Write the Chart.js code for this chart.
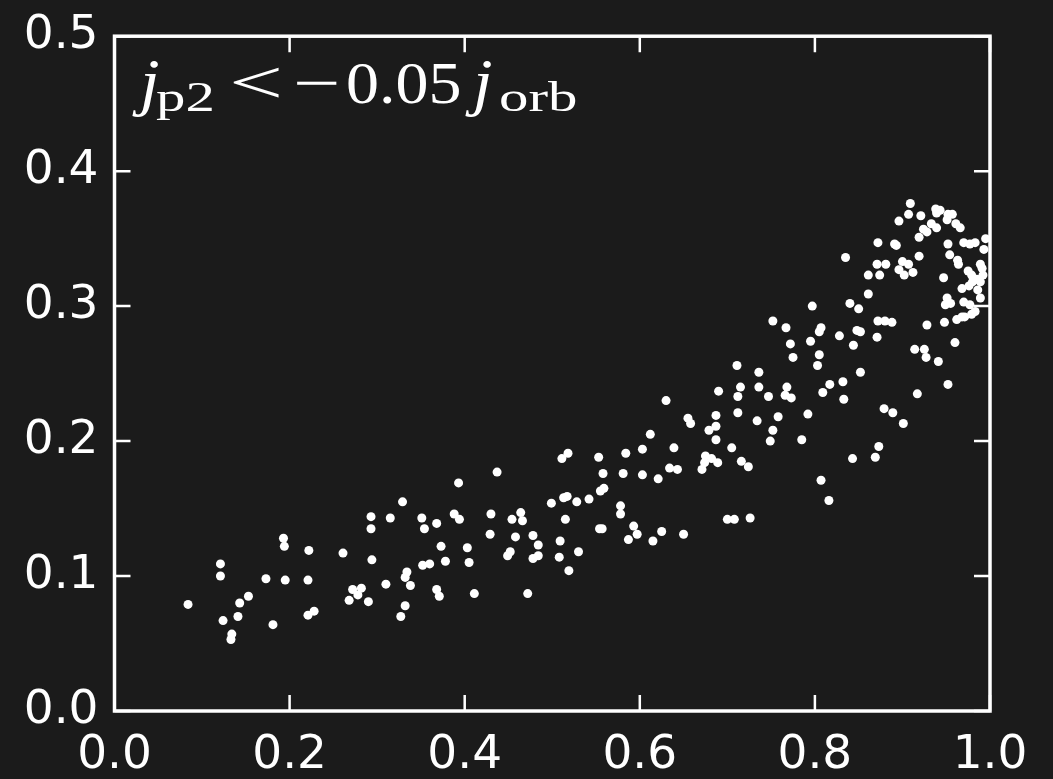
<!DOCTYPE html>
<html>
<head>
<meta charset="utf-8">
<script src="https://cdn.jsdelivr.net/npm/chart.js@4.4.0/dist/chart.umd.min.js"></script>
<style>
    html, body { margin: 0; padding: 0; background: #1b1b1b; }
    #wrap { width: 1053px; height: 779px; }
</style>
</head>
<body>
<div id="wrap"><canvas id="chart" width="1053" height="779"></canvas></div>
<script>
// values
const ratioX = [
    0.084, 0.121, 0.121, 0.153, 0.143, 0.124, 0.141, 0.134, 0.133, 0.173, 0.195, 0.181, 0.193, 0.194, 0.222, 0.221,
    0.221, 0.228, 0.261, 0.518, 0.511, 0.437, 0.393, 0.329, 0.293, 0.293, 0.315, 0.351, 0.354, 0.368, 0.388, 0.394,
    0.430, 0.429, 0.454, 0.464, 0.466, 0.458, 0.478, 0.484, 0.452, 0.449, 0.478, 0.484, 0.499, 0.513, 0.517, 0.528,
    0.515, 0.509, 0.508, 0.519, 0.530, 0.294, 0.373, 0.403, 0.378, 0.405, 0.352, 0.360, 0.334, 0.332, 0.338, 0.310,
    0.272, 0.282, 0.278, 0.268, 0.290, 0.368, 0.371, 0.411, 0.472, 0.332, 0.327,
    0.690, 0.715, 0.712, 0.736, 0.747, 0.768, 0.766, 0.773, 0.630, 0.655, 0.658, 0.687, 0.687, 0.679, 0.712, 0.734,
    0.758, 0.752, 0.749, 0.687, 0.705, 0.612, 0.639, 0.603, 0.584, 0.553, 0.675, 0.682, 0.689, 0.674, 0.671, 0.716,
    0.724, 0.634, 0.643, 0.558, 0.581, 0.603, 0.621, 0.559, 0.555, 0.542, 0.578, 0.578, 0.726, 0.700, 0.708, 0.554,
    0.557, 0.593, 0.597, 0.625, 0.650, 0.587, 0.615, 0.807, 0.816, 0.843, 0.869, 0.873,
    0.835, 0.871, 0.861, 0.874, 0.861, 0.840, 0.850, 0.872, 0.871, 0.797, 0.752, 0.767, 0.807, 0.805, 0.848, 0.852,
    0.828, 0.844, 0.772, 0.795, 0.775, 0.805, 0.803, 0.852, 0.711, 0.736, 0.817, 0.832, 0.809, 0.833, 0.792, 0.785,
    0.909, 0.907, 0.921, 0.896, 0.938, 0.943, 0.939, 0.952, 0.957, 0.951, 0.961, 0.966, 0.933, 0.939, 0.924, 0.928,
    0.919, 0.872, 0.891, 0.893, 0.952, 0.970, 0.977, 0.983, 0.995, 0.993, 0.919, 0.954, 0.963, 0.964, 0.881, 0.900,
    0.907, 0.896, 0.902, 0.912, 0.947, 0.975, 0.979, 0.989, 0.991, 0.992, 0.985, 0.980, 0.976, 0.989, 0.968, 0.986,
    0.989, 0.951, 0.949, 0.955, 0.970, 0.977, 0.983, 0.979, 0.962, 0.968, 0.971, 0.880, 0.888, 0.928, 0.948, 0.960,
    0.914, 0.925, 0.927, 0.941, 0.952, 0.917, 0.879, 0.889, 0.901
];
const ratioY = [
    0.079, 0.109, 0.100, 0.085, 0.080, 0.067, 0.070, 0.057, 0.053, 0.098, 0.097, 0.064, 0.128, 0.122, 0.119, 0.097,
    0.071, 0.074, 0.117, 0.191, 0.187, 0.177, 0.169, 0.155, 0.144, 0.135, 0.143, 0.143, 0.135, 0.139, 0.146, 0.142,
    0.146, 0.131, 0.142, 0.147, 0.141, 0.129, 0.130, 0.123, 0.118, 0.115, 0.113, 0.115, 0.154, 0.158, 0.159, 0.155,
    0.142, 0.126, 0.114, 0.104, 0.118, 0.112, 0.122, 0.121, 0.111, 0.110, 0.108, 0.109, 0.103, 0.099, 0.093, 0.094,
    0.090, 0.091, 0.086, 0.082, 0.081, 0.090, 0.085, 0.087, 0.087, 0.078, 0.070,
    0.237, 0.240, 0.233, 0.240, 0.233, 0.240, 0.234, 0.232, 0.230, 0.217, 0.213, 0.219, 0.211, 0.208, 0.221, 0.215,
    0.218, 0.208, 0.200, 0.201, 0.195, 0.205, 0.195, 0.194, 0.191, 0.188, 0.189, 0.187, 0.184, 0.184, 0.179, 0.185,
    0.181, 0.180, 0.179, 0.176, 0.176, 0.175, 0.172, 0.165, 0.163, 0.157, 0.152, 0.146, 0.143, 0.142, 0.142, 0.135,
    0.135, 0.137, 0.131, 0.133, 0.131, 0.127, 0.126, 0.171, 0.156, 0.187, 0.188, 0.196,
    0.336, 0.331, 0.323, 0.323, 0.309, 0.302, 0.298, 0.289, 0.277, 0.300, 0.289, 0.284, 0.284, 0.281, 0.282, 0.281,
    0.278, 0.271, 0.272, 0.274, 0.262, 0.264, 0.256, 0.251, 0.256, 0.251, 0.242, 0.244, 0.236, 0.231, 0.220, 0.201,
    0.376, 0.368, 0.367, 0.363, 0.372, 0.371, 0.369, 0.368, 0.368, 0.364, 0.361, 0.358, 0.361, 0.358, 0.357, 0.355,
    0.351, 0.347, 0.346, 0.345, 0.346, 0.347, 0.346, 0.347, 0.350, 0.342, 0.337, 0.338, 0.334, 0.331, 0.331, 0.333,
    0.331, 0.327, 0.323, 0.325, 0.321, 0.326, 0.323, 0.331, 0.328, 0.323, 0.320, 0.318, 0.315, 0.318, 0.313, 0.312,
    0.306, 0.306, 0.301, 0.302, 0.303, 0.301, 0.296, 0.294, 0.290, 0.292, 0.292, 0.289, 0.288, 0.286, 0.288, 0.273,
    0.268, 0.268, 0.262, 0.259, 0.242, 0.235, 0.224, 0.221, 0.213
];
const xTicks = [0.0, 0.2, 0.4, 0.6, 0.8, 1.0];
const yTicks = [0.0, 0.1, 0.2, 0.3, 0.4, 0.5];

const bg = '#1b1b1b';
const fg = '#ffffff';

const points = ratioX.map((x, i) => ({ x: x, y: ratioY[i] }));

// text piece, stretched sideways a bit to look like the TeX font
function piece(ctx, str, font, x, y, sx) {
    ctx.save();
    ctx.font = font;
    ctx.translate(x, y);
    ctx.scale(sx, 1);
    ctx.fillText(str, 0, 0);
    ctx.restore();
}

// dark background, axes frame with inward ticks on all four sides, and the label
const decor = {
    id: 'decor',
    beforeDraw(chart) {
        const ctx = chart.ctx;
        ctx.save();
        ctx.fillStyle = bg;
        ctx.fillRect(0, 0, chart.width, chart.height);
        ctx.restore();
    },
    afterDraw(chart) {
        const { ctx, chartArea: a, scales } = chart;
        const tickLen = 16;
        ctx.save();
        ctx.strokeStyle = fg;
        ctx.lineWidth = 2.5;
        ctx.beginPath();
        xTicks.forEach(v => {
            const px = scales.x.getPixelForValue(v);
            ctx.moveTo(px, a.bottom); ctx.lineTo(px, a.bottom - tickLen);
            ctx.moveTo(px, a.top); ctx.lineTo(px, a.top + tickLen);
        });
        yTicks.forEach(v => {
            const py = scales.y.getPixelForValue(v);
            ctx.moveTo(a.left, py); ctx.lineTo(a.left + tickLen, py);
            ctx.moveTo(a.right, py); ctx.lineTo(a.right - tickLen, py);
        });
        ctx.stroke();

        ctx.lineWidth = 3.5;
        ctx.strokeRect(a.left, a.top, a.right - a.left, a.bottom - a.top);

        // j_p2 < -0.05 j_orb
        ctx.fillStyle = fg;
        ctx.textBaseline = 'alphabetic';
        const serif = '"Liberation Serif"';
        piece(ctx, 'j', 'italic 64px ' + serif, 140, 103, 1.1);
        piece(ctx, 'p2', '42px ' + serif, 156, 111, 1.4);
        piece(ctx, '<', '62px ' + serif, 229, 103, 1.55);
        piece(ctx, '\u2212', '60px ' + serif, 293, 103, 1.4);
        piece(ctx, '0.05', '60px ' + serif, 346, 103, 1.1);
        piece(ctx, 'j', 'italic 64px ' + serif, 473, 103, 1.1);
        piece(ctx, 'orb', '42px ' + serif, 499, 111, 1.4);
        ctx.restore();
    }
};

const tickFont = { family: 'DejaVu Sans', size: 47 };

new Chart(document.getElementById('chart'), {
    type: 'scatter',
    data: {
        datasets: [{
            data: points,
            backgroundColor: fg,
            borderWidth: 0,
            pointRadius: 4.5,
            pointHoverRadius: 4.5
        }]
    },
    options: {
        responsive: false,
        animation: false,
        events: [],
        layout: { padding: { top: 27, right: 63, left: 0, bottom: 0 } },
        plugins: {
            legend: { display: false },
            tooltip: { enabled: false }
        },
        scales: {
            x: {
                type: 'linear',
                min: 0,
                max: 1,
                border: { display: false },
                grid: { display: false },
                afterBuildTicks: scale => { scale.ticks = xTicks.map(v => ({ value: v })); },
                afterFit: scale => { scale.height = 68; },
                ticks: {
                    color: fg,
                    font: tickFont,
                    padding: 9,
                    maxRotation: 0,
                    callback: v => v.toFixed(1)
                }
            },
            y: {
                type: 'linear',
                min: 0,
                max: 0.5,
                border: { display: false },
                grid: { display: false },
                afterBuildTicks: scale => { scale.ticks = yTicks.map(v => ({ value: v })); },
                afterFit: scale => { scale.width = 114.5; },
                ticks: {
                    color: fg,
                    font: tickFont,
                    padding: 8,
                    callback: v => v.toFixed(1)
                }
            }
        }
    },
    plugins: [decor]
});
</script>
</body>
</html>
